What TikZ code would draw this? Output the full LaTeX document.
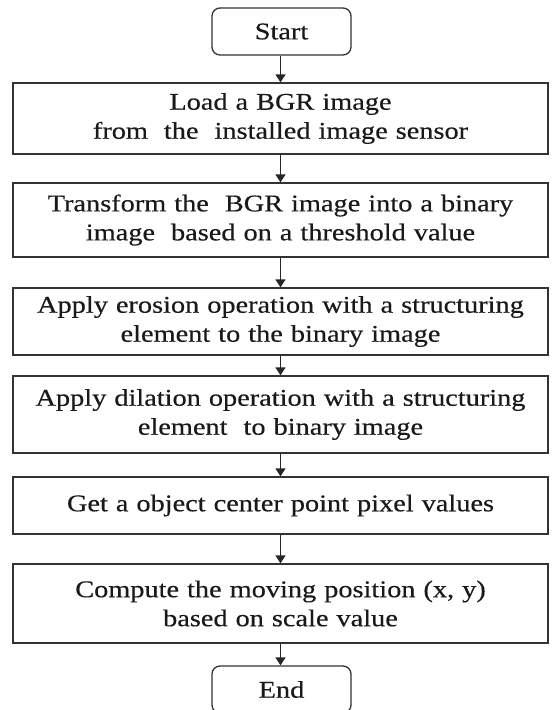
\documentclass[tikz,border=0pt]{standalone}
\usepackage{fontspec}
\setmainfont[FakeStretch=1.18,WordSpace=0.4,FakeBold=0.4]{Liberation Serif}
\usetikzlibrary{arrows.meta}
\begin{document}
\begin{tikzpicture}[x=1pt,y=-1pt,
  boxtext/.style={font=\fontsize{24}{29}\selectfont,text=black!90},
  stepbox/.style={boxtext,draw=black!80,line width=1.3pt,rectangle,minimum width=535pt,text width=530pt,align=center,inner sep=0pt},
  termbox/.style={boxtext,draw=black!80,line width=1.3pt,rounded corners=8pt,minimum width=139pt,minimum height=47pt,inner sep=0pt},
  flow/.style={draw=black!85,line width=1.3pt,-{Triangle[length=8pt,width=10pt]}}]
\useasboundingbox (0,0) rectangle (552,710);
\clip (0,0) rectangle (552,710);
\node[termbox] (start) at (281.5,31.5) {Start};
\node[stepbox,minimum height=71pt] (b1) at (280.5,118.5) {Load a BGR image\\from\ \ the\ \ installed image sensor};
\node[stepbox,minimum height=74pt] (b2) at (280.5,220) {Transform the\ \ BGR image into a binary\\image\ \ based on a threshold value};
\node[stepbox,minimum height=67pt] (b3) at (280.5,321.5) {Apply erosion operation with a structuring\\element to the binary image};
\node[stepbox,minimum height=77pt] (b4) at (280.5,414.5) {Apply dilation operation with a structuring\\element\ \ to binary image};
\node[stepbox,minimum height=57pt] (b5) at (280.5,505.5) {Get a object center point pixel values};
\node[stepbox,minimum height=79pt] (b6) at (280.5,603.5) {Compute the moving position (x, y)\\based on scale value};
\node[termbox] (end) at (281.5,689.5) {End};
\draw[flow] (start.south -| b1.north) -- (b1.north);
\draw[flow] (b1) -- (b2);
\draw[flow] (b2) -- (b3);
\draw[flow] (b3) -- (b4);
\draw[flow] (b4) -- (b5);
\draw[flow] (b5) -- (b6);
\draw[flow] (b6.south) -- (end.north -| b6.south);
\end{tikzpicture}
\end{document}
